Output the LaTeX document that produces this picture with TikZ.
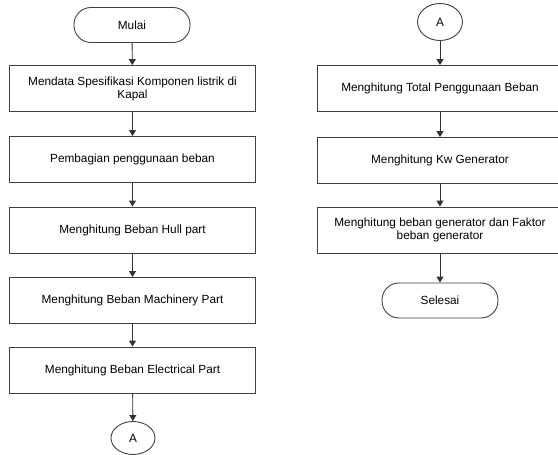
\documentclass[tikz,border=0pt]{standalone}
\usepackage{fontspec}
\setmainfont{Liberation Sans}
\usetikzlibrary{arrows.meta,shapes.geometric}
\begin{document}
\begin{tikzpicture}[x=1pt,y=1pt,
  font=\fontsize{11.8}{13}\selectfont,
  proc/.style={draw=black!75,line width=0.9pt,minimum width=246pt,minimum height=46pt,align=center,inner sep=1pt},
  term/.style={draw=black!75,line width=0.9pt,minimum width=116pt,minimum height=35pt,rounded corners=17pt},
  conn/.style={draw=black!75,line width=0.9pt,ellipse,minimum width=44pt,minimum height=33pt,inner sep=0pt},
  flow/.style={draw=black!80,line width=0.9pt,-{Triangle[width=7pt,length=6pt]}}]
\useasboundingbox (0,0) rectangle (558,-455);
% left column
\node[term] (mulai) at (132,-25) {Mulai};
\node[proc] (b1) at (132.5,-88.5) {Mendata Spesifikasi Komponen listrik di\\Kapal};
\node[proc] (b2) at (132.5,-159.5) {Pembagian penggunaan beban};
\node[proc] (b3) at (132.5,-230) {Menghitung Beban Hull part};
\node[proc] (b4) at (132.5,-300.5) {Menghitung Beban Machinery Part};
\node[proc] (b5) at (132.5,-370) {Menghitung Beban Electrical Part};
\node[conn] (a1) at (133,-438) {A};
% right column
\node[conn,minimum width=45pt,minimum height=37pt] (a2) at (440,-22) {A};
\node[proc] (r1) at (440,-88.5) {Menghitung Total Penggunaan Beban};
\node[proc] (r2) at (440,-160.5) {Menghitung Kw Generator};
\node[proc] (r3) at (440,-230) {Menghitung beban generator dan Faktor\\beban generator};
\node[term] (sel) at (440,-300.5) {Selesai};
% connectors
\draw[flow] (mulai) -- (b1);
\draw[flow] (b1) -- (b2);
\draw[flow] (b2) -- (b3);
\draw[flow] (b3) -- (b4);
\draw[flow] (b4) -- (b5);
\draw[flow] (b5) -- (a1);
\draw[flow] (a2) -- (r1);
\draw[flow] (r1) -- (r2);
\draw[flow] (r2) -- (r3);
\draw[flow] (r3) -- (sel);
\end{tikzpicture}
\end{document}
